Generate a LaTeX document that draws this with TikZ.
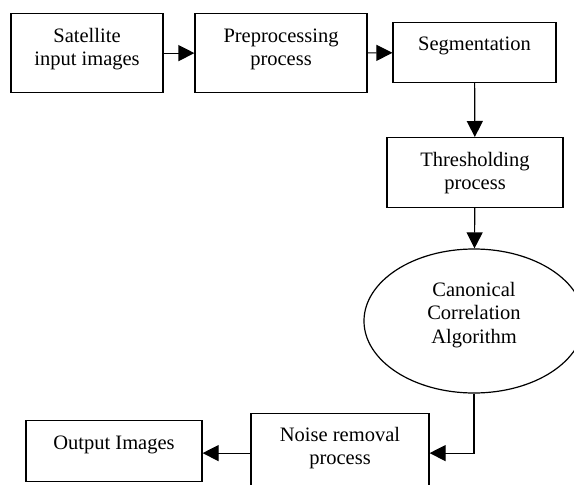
\documentclass[tikz,border=0pt]{standalone}
\usepackage{fontspec}
\setmainfont{Liberation Serif}
\usetikzlibrary{arrows.meta}
\usetikzlibrary{shapes}

\begin{document}
\begin{tikzpicture}[x=1pt, y=-1pt,
		font=\fontsize{20.5}{23.5}\selectfont,
		box/.style={draw, rectangle, line width=1.2pt, align=center, anchor=north,
			inner xsep=2pt, inner ysep=0pt},
		oval/.style={draw, ellipse, line width=1.2pt, align=center, inner sep=0pt},
		flow/.style={line width=1.2pt, -{Triangle[length=16pt, width=16pt]}}]
		\useasboundingbox (0,0) rectangle (574,485);
		%% The top row
		\node[box, minimum width=152pt, minimum height=79pt, text height=52pt, text depth=27pt]
			(sat) at (87,13) {Satellite\\input images};
		\node[box, minimum width=172pt, minimum height=79pt, text height=52pt, text depth=27pt]
			(pre) at (281,13) {Preprocessing\\process};
		\node[box, minimum width=163pt, minimum height=60pt, text height=28pt, text depth=32pt]
			(seg) at (474.5,22) {Segmentation};
		%% Going down
		\node[box, minimum width=176pt, minimum height=70pt, text height=52pt, text depth=18pt]
			(thr) at (475,137) {Thresholding\\process};
		\node[oval, minimum width=220pt, minimum height=144pt, text height=60pt, text depth=16pt]
			(cca) at (474,321) {Canonical\\Correlation\\Algorithm};
		%% The bottom row
		\node[box, minimum width=178pt, minimum height=79pt, text height=51pt, text depth=28pt]
			(noise) at (340,413) {Noise removal\\process};
		\node[box, minimum width=176pt, minimum height=61pt, text height=29pt, text depth=32pt]
			(out) at (114,420) {Output Images};
		%% The arrows
		\draw[flow] (sat) -- (pre);
		\draw[flow] (pre) -- (seg);
		\draw[flow] (seg) -- (thr);
		\draw[flow] (thr) -- (cca);
		\draw[flow] (cca.south) |- (noise.east);
		\draw[flow] (noise.west) -- (noise.west -| out.east);
	\end{tikzpicture}
\end{document}
